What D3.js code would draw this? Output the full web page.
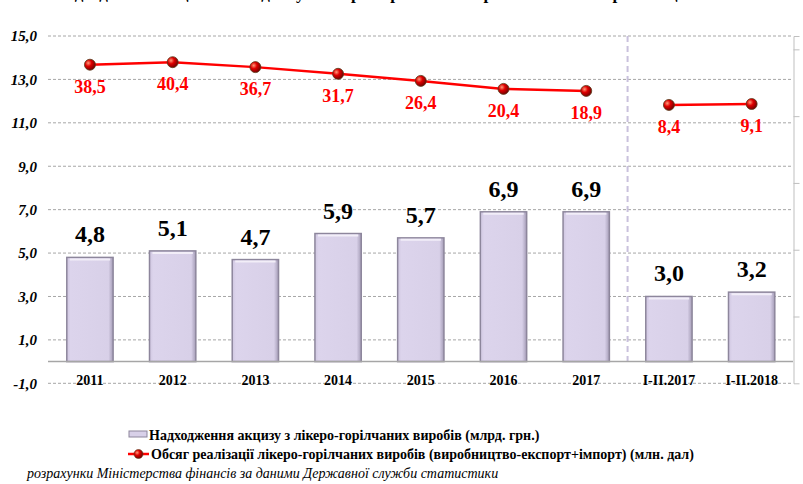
<!DOCTYPE html>
<html>
<head>
<meta charset="utf-8">
<script src="https://cdn.jsdelivr.net/npm/d3@7"></script>
<style>
  body { margin: 0; background: #fff; }
  svg text { font-family: "Liberation Serif", "Times New Roman", "DejaVu Serif", serif; }
</style>
</head>
<body>
<div class="chart"></div>
<script>
var width = 803, height = 484;
var serif = '"Liberation Serif", "Times New Roman", "DejaVu Serif", serif';

let categories = ['2011', '2012', '2013', '2014', '2015', '2016', '2017', 'I-II.2017', 'I-II.2018'];
let exciseValues = [4.8, 5.1, 4.7, 5.9, 5.7, 6.9, 6.9, 3.0, 3.2];
let volumeValues = [38.5, 40.4, 36.7, 31.7, 26.4, 20.4, 18.9, 8.4, 9.1];
let lineGroups = [[0, 1, 2, 3, 4, 5, 6], [7, 8]];
let leftTicks = [-1, 1, 3, 5, 7, 9, 11, 13, 15];
let rightTicks = [-150, -100, -50, 0, 50];
let legendLabels = [
  'Надходження акцизу з лікеро-горілчаних виробів (млрд. грн.)',
  'Обсяг реалізації лікеро-горілчаних виробів (виробництво-експорт+імпорт) (млн. дал)'
];
let titleText = 'Надходження акцизного податку з лікеро-горілчаних виробів та обсяг їх реалізації';
let sourceText = 'розрахунки Міністерства фінансів за даними Державної служби статистики';

let fmt = v => v.toFixed(1).replace('.', ',');

let svg = d3.select('.chart')
  .append('svg')
  .attr('width', width)
  .attr('height', height)
  .style('font-family', serif);

let defs = svg.append('defs');
let grad = defs.append('radialGradient').attr('id', 'ball').attr('cx', '35%').attr('cy', '35%').attr('r', '65%');
grad.append('stop').attr('offset', '0%').attr('stop-color', '#ff9a7a');
grad.append('stop').attr('offset', '45%').attr('stop-color', '#e00000');
grad.append('stop').attr('offset', '100%').attr('stop-color', '#7a0000');

let barGrad = defs.append('linearGradient').attr('id', 'bar').attr('x1', 0).attr('x2', 1);
barGrad.append('stop').attr('offset', '0%').attr('stop-color', '#cfc6e0');
barGrad.append('stop').attr('offset', '8%').attr('stop-color', '#dcd4ec');
barGrad.append('stop').attr('offset', '90%').attr('stop-color', '#d8d0e8');
barGrad.append('stop').attr('offset', '100%').attr('stop-color', '#a49cb6');

// title, cut off at the top edge like in the source picture
svg.append('text')
  .attr('x', 370)
  .attr('y', -1)
  .style('font-family', serif)
  .style('text-anchor', 'middle')
  .style('font-weight', 'bold')
  .style('font-size', '17px')
  .text(titleText);

//scales
let xScale = d3.scaleBand()
  .domain(categories)
  .range([48.6, 793])
  .paddingInner(0.44)
  .paddingOuter(0.22);

let yScale = d3.scaleLinear()
  .domain([-1, 15])
  .range([383.3, 36]);

let y2Scale = d3.scaleLinear()
  .domain([-200, 60])
  .range([383.3, 36]);

// grid
svg.append('g')
  .selectAll('line')
  .data(leftTicks)
  .enter()
  .append('line')
  .attr('x1', 48)
  .attr('x2', 793)
  .attr('y1', d => yScale(d))
  .attr('y2', d => yScale(d))
  .style('stroke', '#a6a6a6')
  .style('stroke-width', 1)
  .style('stroke-dasharray', '3,2');

// left axis
let yAxis = d3.axisLeft(yScale)
  .tickValues(leftTicks)
  .tickSize(0)
  .tickPadding(0)
  .tickFormat(fmt);
let yAxisG = svg.append('g')
  .attr('transform', 'translate(37, 0)')
  .call(yAxis)
  .attr('font-family', null);
yAxisG.select('.domain').remove();
yAxisG.selectAll('text')
  .style('font-family', serif)
  .style('font-size', '15px')
  .style('font-weight', 'bold')
  .style('font-style', 'italic')
  .style('fill', '#000');

// right axis (no labels)
let y2Axis = d3.axisRight(y2Scale)
  .tickValues(rightTicks)
  .tickSize(6)
  .tickFormat('');
let y2AxisG = svg.append('g')
  .attr('transform', 'translate(793.5, 0)')
  .call(y2Axis);
y2AxisG.select('.domain').style('stroke', '#bfbfbf');
y2AxisG.selectAll('.tick line').style('stroke', '#bfbfbf');

// separator between years and months
let sepX = (xScale('2017') + xScale.bandwidth() + xScale('I-II.2017')) / 2;
svg.append('line')
  .attr('x1', sepX)
  .attr('x2', sepX)
  .attr('y1', yScale(15))
  .attr('y2', yScale(0))
  .style('stroke', '#c9c1dd')
  .style('stroke-width', 2)
  .style('stroke-dasharray', '6,4');

// bars
let bars = svg.selectAll('.bar')
  .data(exciseValues)
  .enter()
  .append('g')
  .attr('class', 'bar');

bars.append('rect')
  .attr('x', (d, i) => xScale(categories[i]))
  .attr('y', d => yScale(d))
  .attr('width', xScale.bandwidth())
  .attr('height', d => yScale(0) - yScale(d))
  .style('fill', 'url(#bar)')
  .style('stroke', '#8d869c')
  .style('stroke-width', 1.5);

bars.append('line')
  .attr('x1', (d, i) => xScale(categories[i]) + 3)
  .attr('x2', (d, i) => xScale(categories[i]) + xScale.bandwidth() - 3)
  .attr('y1', d => yScale(d) + 2)
  .attr('y2', d => yScale(d) + 2)
  .style('stroke', '#f2eef8')
  .style('stroke-width', 2);

bars.append('text')
  .style('text-anchor', 'middle')
  .style('font-family', serif)
  .style('font-weight', 'bold')
  .style('font-size', '24px')
  .style('fill', '#000')
  .attr('x', (d, i) => xScale(categories[i]) + xScale.bandwidth() / 2)
  .attr('y', d => yScale(d) - 15)
  .text(fmt);

// zero line
svg.append('line')
  .attr('x1', 48)
  .attr('x2', 793)
  .attr('y1', yScale(0))
  .attr('y2', yScale(0))
  .style('stroke', '#a6a6a6')
  .style('stroke-width', 1.5);

// category labels
svg.append('g')
  .selectAll('text')
  .data(categories)
  .enter()
  .append('text')
  .style('text-anchor', 'middle')
  .style('font-family', serif)
  .style('font-weight', 'bold')
  .style('font-size', '14px')
  .attr('x', d => xScale(d) + xScale.bandwidth() / 2)
  .attr('y', 385)
  .text(d => d);

// line series
let cx = i => xScale(categories[i]) + xScale.bandwidth() / 2;
let line = d3.line()
  .x(i => cx(i))
  .y(i => y2Scale(volumeValues[i]));

svg.selectAll('.vol-line')
  .data(lineGroups)
  .enter()
  .append('path')
  .attr('class', 'vol-line')
  .attr('d', line)
  .style('fill', 'none')
  .style('stroke', '#ff0000')
  .style('stroke-width', 2.5);

let points = svg.selectAll('.ball')
  .data(volumeValues)
  .enter()
  .append('g')
  .attr('class', 'ball')
  .attr('transform', (d, i) => `translate(${cx(i)}, ${y2Scale(d)})`);

points.append('circle')
  .attr('r', 5.5)
  .style('fill', 'url(#ball)')
  .style('stroke', '#5a3a1a')
  .style('stroke-width', 0.8);

points.append('text')
  .style('text-anchor', 'middle')
  .style('font-family', serif)
  .style('font-weight', 'bold')
  .style('font-size', '18px')
  .style('fill', '#ff0000')
  .attr('y', 28)
  .text(fmt);

// legend
let legend = svg.append('g');
legend.append('rect')
  .attr('x', 129)
  .attr('y', 431)
  .attr('width', 18)
  .attr('height', 6)
  .style('fill', '#d8d0e8')
  .style('stroke', '#8d869c');
legend.append('line')
  .attr('x1', 128)
  .attr('x2', 149)
  .attr('y1', 454)
  .attr('y2', 454)
  .style('stroke', '#ff0000')
  .style('stroke-width', 2.5);
legend.append('circle')
  .attr('cx', 138.5)
  .attr('cy', 454)
  .attr('r', 4.5)
  .style('fill', 'url(#ball)')
  .style('stroke', '#5a3a1a')
  .style('stroke-width', 0.6);
legend.selectAll('.leg')
  .data(legendLabels)
  .enter()
  .append('text')
  .attr('class', 'leg')
  .attr('x', (d, i) => i === 0 ? 149 : 151)
  .attr('y', (d, i) => 440 + i * 19)
  .style('font-family', serif)
  .style('font-weight', 'bold')
  .style('font-size', '14px')
  .text(d => d);

// source
svg.append('text')
  .attr('x', 27)
  .attr('y', 478)
  .style('font-family', serif)
  .style('font-style', 'italic')
  .style('font-size', '14px')
  .text(sourceText);
</script>
</body>
</html>
